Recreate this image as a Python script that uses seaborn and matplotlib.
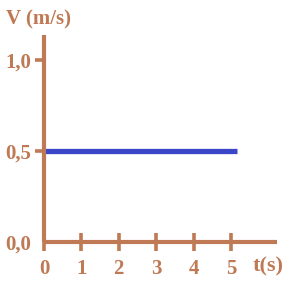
import matplotlib
matplotlib.use("Agg")
import matplotlib.pyplot as plt
import seaborn as sns
import pandas as pd

# data
t_values = [0.0, 5.15]
v_values = [0.5, 0.5]
x_ticks = [0, 1, 2, 3, 4, 5]
x_tick_labels = ["0", "1", "2", "3", "4", "5"]
y_ticks = [0.0, 0.5, 1.0]
y_tick_labels = ["0,0", "0,5", "1,0"]
x_title = "t(s)"
y_title = "V (m/s)"

BROWN = "#BF7A55"
BLUE = "#3B45C8"

sns.set_theme(style="white")
plt.rcParams['font.family'] = ['Liberation Serif', 'DejaVu Serif']
plt.rcParams['font.weight'] = 'bold'

fig = plt.figure(figsize=(3, 3), dpi=100)
ax = fig.add_axes([44/300, 58/300, 233/300, 207/300])

df = pd.DataFrame({"t": t_values, "v": v_values})
sns.lineplot(data=df, x="t", y="v", ax=ax, color=BLUE, linewidth=3.8,
             solid_capstyle="butt")

ax.set_xlim(0, 233/37.4)
ax.set_ylim(0, 207/182)

for s in ["top", "right"]:
    ax.spines[s].set_visible(False)
for s in ["left", "bottom"]:
    ax.spines[s].set_color(BROWN)
    ax.spines[s].set_linewidth(3)
    ax.spines[s].set_capstyle("butt")

ax.set_xticks(x_ticks)
ax.set_xticklabels(x_tick_labels)
ax.tick_params(axis="x", bottom=True, direction="inout", length=12.5, width=2.6,
               color=BROWN, labelcolor=BROWN, labelsize=15, pad=6)
ax.set_yticks(y_ticks)
ax.set_yticklabels(y_tick_labels)
ax.tick_params(axis="y", left=True, direction="out", length=6.5, width=2.6,
               color=BROWN, labelcolor=BROWN, labelsize=15, pad=3)
ax.yaxis.get_major_ticks()[0].tick1line.set_visible(False)
ax.set_yticks([1.0], minor=True)
ax.tick_params(axis="y", which="minor", left=True, direction="in", length=9,
               width=2.6, color=BROWN)
ax.set_xlabel("")
ax.set_ylabel("")
for lab in ax.get_xticklabels() + ax.get_yticklabels():
    lab.set_fontweight("bold")

fig.text(253/300, 1 - 266/300, x_title, color=BROWN, fontsize=16,
         fontweight="bold", ha="left", va="center")
fig.text(6/300, 1 - 19/300, y_title, color=BROWN, fontsize=15,
         fontweight="bold", ha="left", va="center")

fig.savefig("out.png", dpi=100)
